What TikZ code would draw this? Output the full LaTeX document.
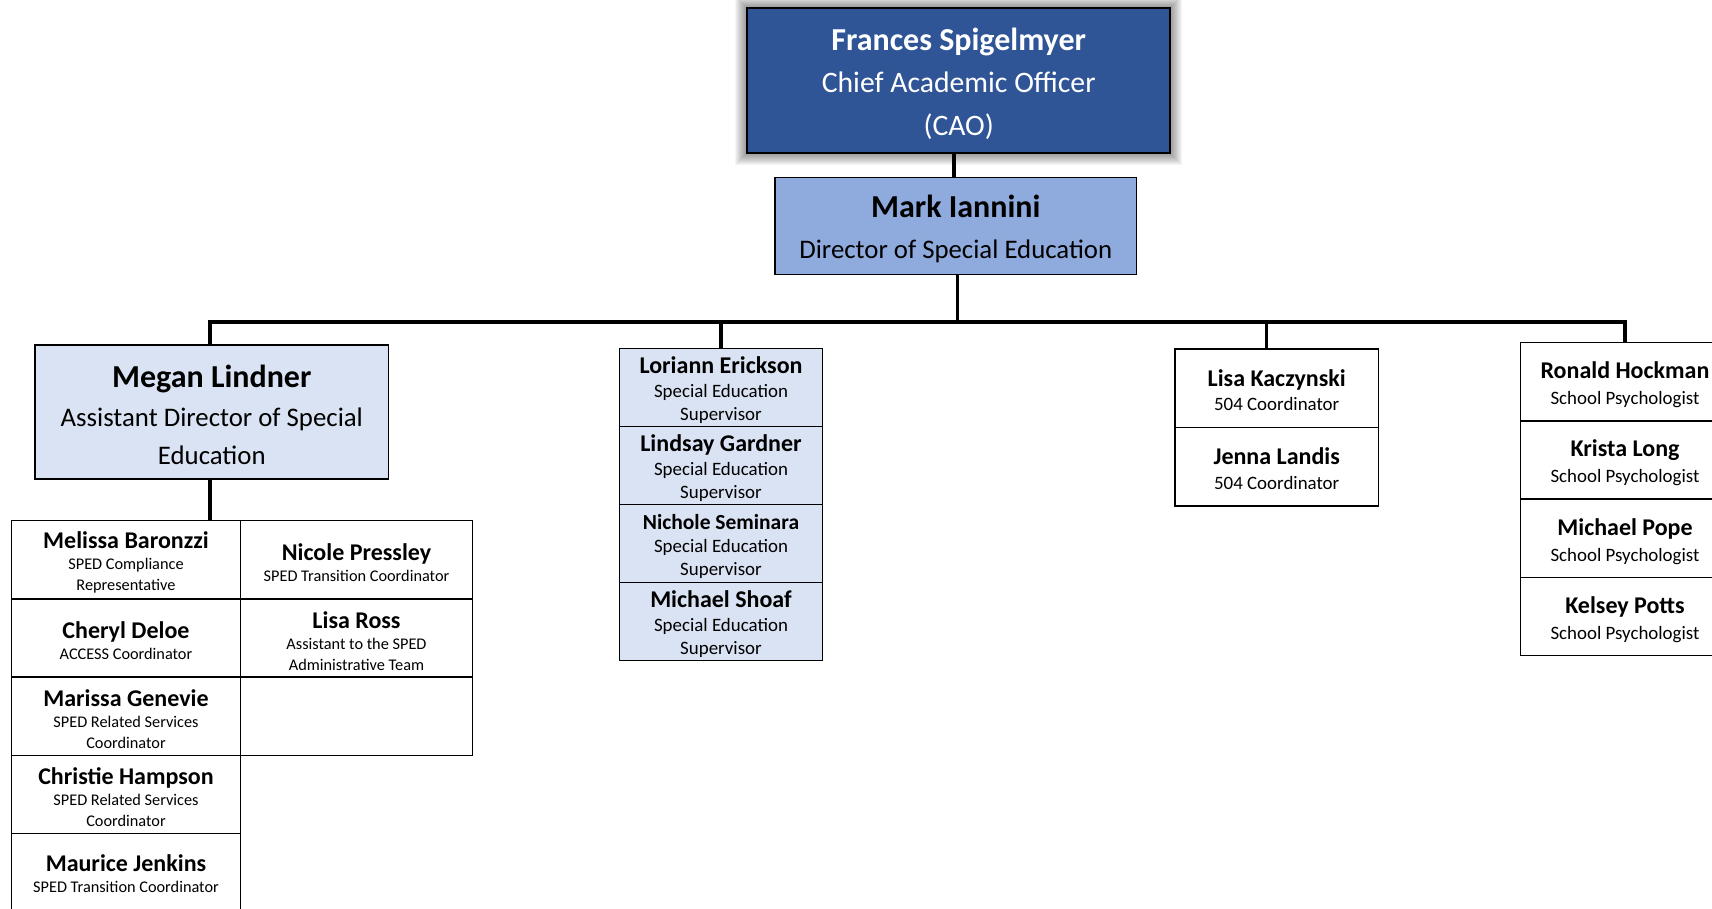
\documentclass[tikz,border=0pt]{standalone}
\usepackage{fontspec}
\setmainfont{Carlito}
\usetikzlibrary{calc}
\pgfdeclarelayer{bg}
\pgfsetlayers{bg,main}

\definecolor{caoblue}{RGB}{47,85,151}
\definecolor{midblue}{RGB}{143,170,220}
\definecolor{paleblue}{RGB}{218,227,243}

% bold name lines at the sizes used in the chart
\newcommand\nmtop[1]{{\fontsize{32}{32}\selectfont\bfseries #1}}
\newcommand\nmcell[1]{{\fontsize{24}{24}\selectfont\bfseries #1}}
% text block of a box, set a little below the box centre
\newcommand\boxtext[3]{\node[#1] (#2-t) at ([yshift=-3pt]#2.center) {#3};}

\tikzset{
  conn/.style={draw=black, line width=3.5pt, line join=miter},
  frame/.style={draw=black, line width=1.5pt, inner sep=0pt},
  txt/.style={inner sep=0pt, align=center},
  caobox/.style={frame, fill=caoblue, line width=2pt,
    minimum width=422.7pt, minimum height=144.4pt},
  caotext/.style={txt, text=white, font=\fontsize{29.7}{42.5}\selectfont},
  dirbox/.style={frame, fill=midblue, minimum width=361.7pt, minimum height=97pt},
  dirtext/.style={txt, font=\fontsize{26.8}{41}\selectfont},
  asstbox/.style={frame, fill=paleblue, minimum width=353.8pt, minimum height=134.3pt},
  assttext/.style={txt, font=\fontsize{26.8}{38.5}\selectfont},
  supcell/.style={frame, fill=paleblue, minimum width=203.4pt, minimum height=78pt},
  suptext/.style={txt, font=\fontsize{18.9}{23.3}\selectfont},
  coordcell/.style={frame, fill=white, minimum width=203.3pt, minimum height=78.4pt},
  coordtext/.style={txt, font=\fontsize{18.9}{24.5}\selectfont},
  psycell/.style={frame, fill=white, minimum width=208.6pt, minimum height=78.25pt},
  psytext/.style={txt, font=\fontsize{18.9}{26}\selectfont},
  leftcell/.style={frame, fill=white, minimum width=229.4pt, minimum height=78.3pt},
  rightcell/.style={frame, fill=white, minimum width=231.6pt, minimum height=78.3pt},
  celltext/.style={txt, font=\fontsize{16.3}{21}\selectfont},
}

\begin{document}
\begin{tikzpicture}[x=1pt, y=-1pt]
\useasboundingbox (0,0) rectangle (1712,908);
\clip (0,0) rectangle (1712,908);

% top of the chart
\node[caobox] (cao) at (958.7,80.5) {};
\boxtext{caotext}{cao}{\nmtop{Frances Spigelmyer}\\Chief Academic Officer\\(CAO)}
\begin{pgfonlayer}{bg}
  \foreach \r in {1,...,11}
    \fill[black, opacity=0.04]
      ($(cao.south west)+(-\r,\r)$) rectangle ($(cao.north east)+(\r,-\r)$);
\end{pgfonlayer}

\node[dirbox] (mark) at (955.8,225.8) {};
\boxtext{dirtext}{mark}{\nmtop{Mark Iannini}\\Director of Special Education}

% assistant director and her team
\node[asstbox] (megan) at (211.8,411.95) {};
\boxtext{assttext}{megan}{\nmtop{Megan Lindner}\\Assistant Director of Special\\Education}

\node[leftcell] (g1) at (126,559.65) {};
\boxtext{celltext}{g1}{\nmcell{Melissa Baronzzi}\\SPED Compliance\\Representative}
\node[leftcell] (g2) at (126,637.95) {};
\boxtext{celltext}{g2}{\nmcell{Cheryl Deloe}\\ACCESS Coordinator}
\node[leftcell] (g3) at (126,716.25) {};
\boxtext{celltext}{g3}{\nmcell{Marissa Genevie}\\SPED Related Services\\Coordinator}
\node[leftcell] (g4) at (126,794.55) {};
\boxtext{celltext}{g4}{\nmcell{Christie Hampson}\\SPED Related Services\\Coordinator}
% the last cell runs on below the lower edge
\node[leftcell, minimum height=81.3pt] (g5) at (126,874.35) {};
\node[celltext] (g5-t) at ([yshift=1pt]g5.center) {\nmcell{Maurice Jenkins}\\SPED Transition Coordinator};
\node[rightcell] (h1) at (356.5,559.65) {};
\boxtext{celltext}{h1}{\nmcell{Nicole Pressley}\\SPED Transition Coordinator}
\node[rightcell] (h2) at (356.5,637.95) {};
\boxtext{celltext}{h2}{\nmcell{Lisa Ross}\\Assistant to the SPED\\Administrative Team}
\node[rightcell] (h3) at (356.5,716.25) {};

% special education supervisors
\node[supcell] (sup1) at (721,387.3) {};
\boxtext{suptext}{sup1}{\nmcell{Loriann Erickson}\\Special Education\\Supervisor}
\node[supcell] (sup2) at (721,465.3) {};
\boxtext{suptext}{sup2}{\nmcell{Lindsay Gardner}\\Special Education\\Supervisor}
\node[supcell] (sup3) at (721,543.3) {};
\boxtext{suptext}{sup3}{{\fontsize{21.5}{21.5}\selectfont\bfseries Nichole Seminara}\\Special Education\\Supervisor}
\node[supcell] (sup4) at (721,621.3) {};
\boxtext{suptext}{sup4}{\nmcell{Michael Shoaf}\\Special Education\\Supervisor}

% 504 coordinators
\node[coordcell] (lk) at (1276.7,388.2) {};
\node[coordtext] (lk-t) at ([yshift=-2pt]lk.center) {\nmcell{Lisa Kaczynski}\\504 Coordinator};
\node[coordcell] (jl) at (1276.7,466.6) {};
\node[coordtext] (jl-t) at ([yshift=-2pt]jl.center) {\nmcell{Jenna Landis}\\504 Coordinator};

% school psychologists
\node[psycell] (psy1) at (1625,381.8) {};
\boxtext{psytext}{psy1}{\nmcell{Ronald Hockman}\\School Psychologist}
\node[psycell] (psy2) at (1625,460.1) {};
\boxtext{psytext}{psy2}{\nmcell{Krista Long}\\School Psychologist}
\node[psycell] (psy3) at (1625,538.3) {};
\boxtext{psytext}{psy3}{\nmcell{Michael Pope}\\School Psychologist}
\node[psycell] (psy4) at (1625,616.6) {};
\boxtext{psytext}{psy4}{\nmcell{Kelsey Potts}\\School Psychologist}

% reporting lines
\coordinate (bus) at (0,322);
\coordinate (caodrop) at ($(cao.south)+(-4.7,0)$);
\coordinate (markdrop) at ($(mark.south)+(1.9,0)$);
\coordinate (megtop) at ($(megan.north)+(-2,0)$);
\coordinate (megbot) at ($(megan.south)+(-2,0)$);
\coordinate (lkdrop) at ($(lk.north)+(-10,0)$);
\draw[conn] (caodrop) -- (caodrop |- mark.north);
\draw[conn] (markdrop) -- (markdrop |- bus);
\draw[conn] (megtop) |- (psy1.north |- bus) -- (psy1.north);
\draw[conn] (sup1.north) -- (sup1.north |- bus);
\draw[conn] (lkdrop) -- (lkdrop |- bus);
\draw[conn] (megbot) -- (megbot |- g1.north);
\end{tikzpicture}
\end{document}
